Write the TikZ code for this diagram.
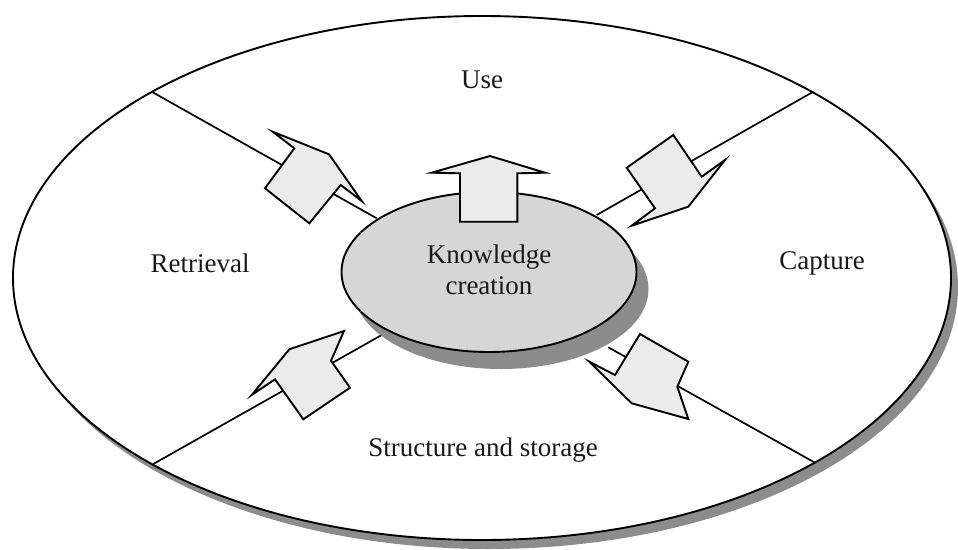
\documentclass[tikz,border=0pt]{standalone}
\usepackage{fontspec}
\setmainfont{Liberation Serif}
\usetikzlibrary{shapes.geometric}
\tikzset{
  x=1pt, y=-1pt,
  every node/.style={font=\fontsize{27}{31}\selectfont, text=black!90},
  rim/.style={draw=black, line width=1.9pt},
  divider/.style={draw=black, line width=1.7pt},
  shadowfill/.style={fill=black!45, draw=none},
  hub/.style={ellipse, draw=black, line width=1.9pt, fill=black!16, inner sep=0pt},
  blockarrow/.style={draw=black, line width=1.9pt, fill=black!8, line join=miter},
  label/.style={inner sep=0pt}
}
\begin{document}
\begin{tikzpicture}
\useasboundingbox (0,0) rectangle (958,549);
% outer disc
\fill[shadowfill] (489,287) ellipse [x radius=469, y radius=262];
\node[ellipse, rim, fill=white, minimum width=938pt, minimum height=524pt, inner sep=0pt] (disc) at (482,278) {};
% dividers
\coordinate (ulr) at (152.7,92.3);
\coordinate (ulc) at (376.7,218.3);
\coordinate (urr) at (813.3,91.7);
\coordinate (urc) at (596.7,215);
\coordinate (llr) at (153.3,464);
\coordinate (llc) at (381.7,335);
\coordinate (lrc) at (608.3,347.3);
\coordinate (lrr) at (815,462.7);
\draw[divider] (ulr) -- (ulc);
\draw[divider] (urr) -- (urc);
\draw[divider] (llr) -- (llc);
\draw[divider] (lrc) -- (lrr);
% hub
\fill[shadowfill] (501,289) ellipse [x radius=147.5, y radius=80];
\node[hub, minimum width=295pt, minimum height=160pt] (hub) at (489,272) {};
\node[label, align=center] (kc) at (489,270) {Knowledge\\creation};
% block arrows
\draw[blockarrow] (460,221.7) -- (460,173.3) -- (431.7,172.7) -- (490,156) -- (545,172.7) -- (517.3,173.3) -- (517.3,221.7) -- cycle;
\draw[blockarrow] (265,188.3) -- (294.3,148.3) -- (272.7,131.7) -- (329,154.3) -- (361.7,201) -- (340.7,185) -- (309.3,223.3) -- cycle;
\draw[blockarrow] (673.3,135) -- (626.7,167.7) -- (655,208.3) -- (631.7,225.7) -- (688.3,206.7) -- (725,160) -- (701.7,176.7) -- cycle;
\draw[blockarrow] (303.3,419.3) -- (275,379.3) -- (251.7,395) -- (289.3,349.3) -- (344,331) -- (331,360.7) -- (350,387.7) -- cycle;
\draw[blockarrow] (640,334) -- (688.3,361.7) -- (677.3,386.7) -- (688.3,419) -- (631.7,403.3) -- (589.3,361.7) -- (615,375) -- cycle;
% labels
\node[label] (use) at (482,80) {Use};
\node[label] (ret) at (200,263) {Retrieval};
\node[label] (cap) at (822,263) {Capture};
\node[label] (sas) at (483,450) {Structure and storage};
\end{tikzpicture}
\end{document}
